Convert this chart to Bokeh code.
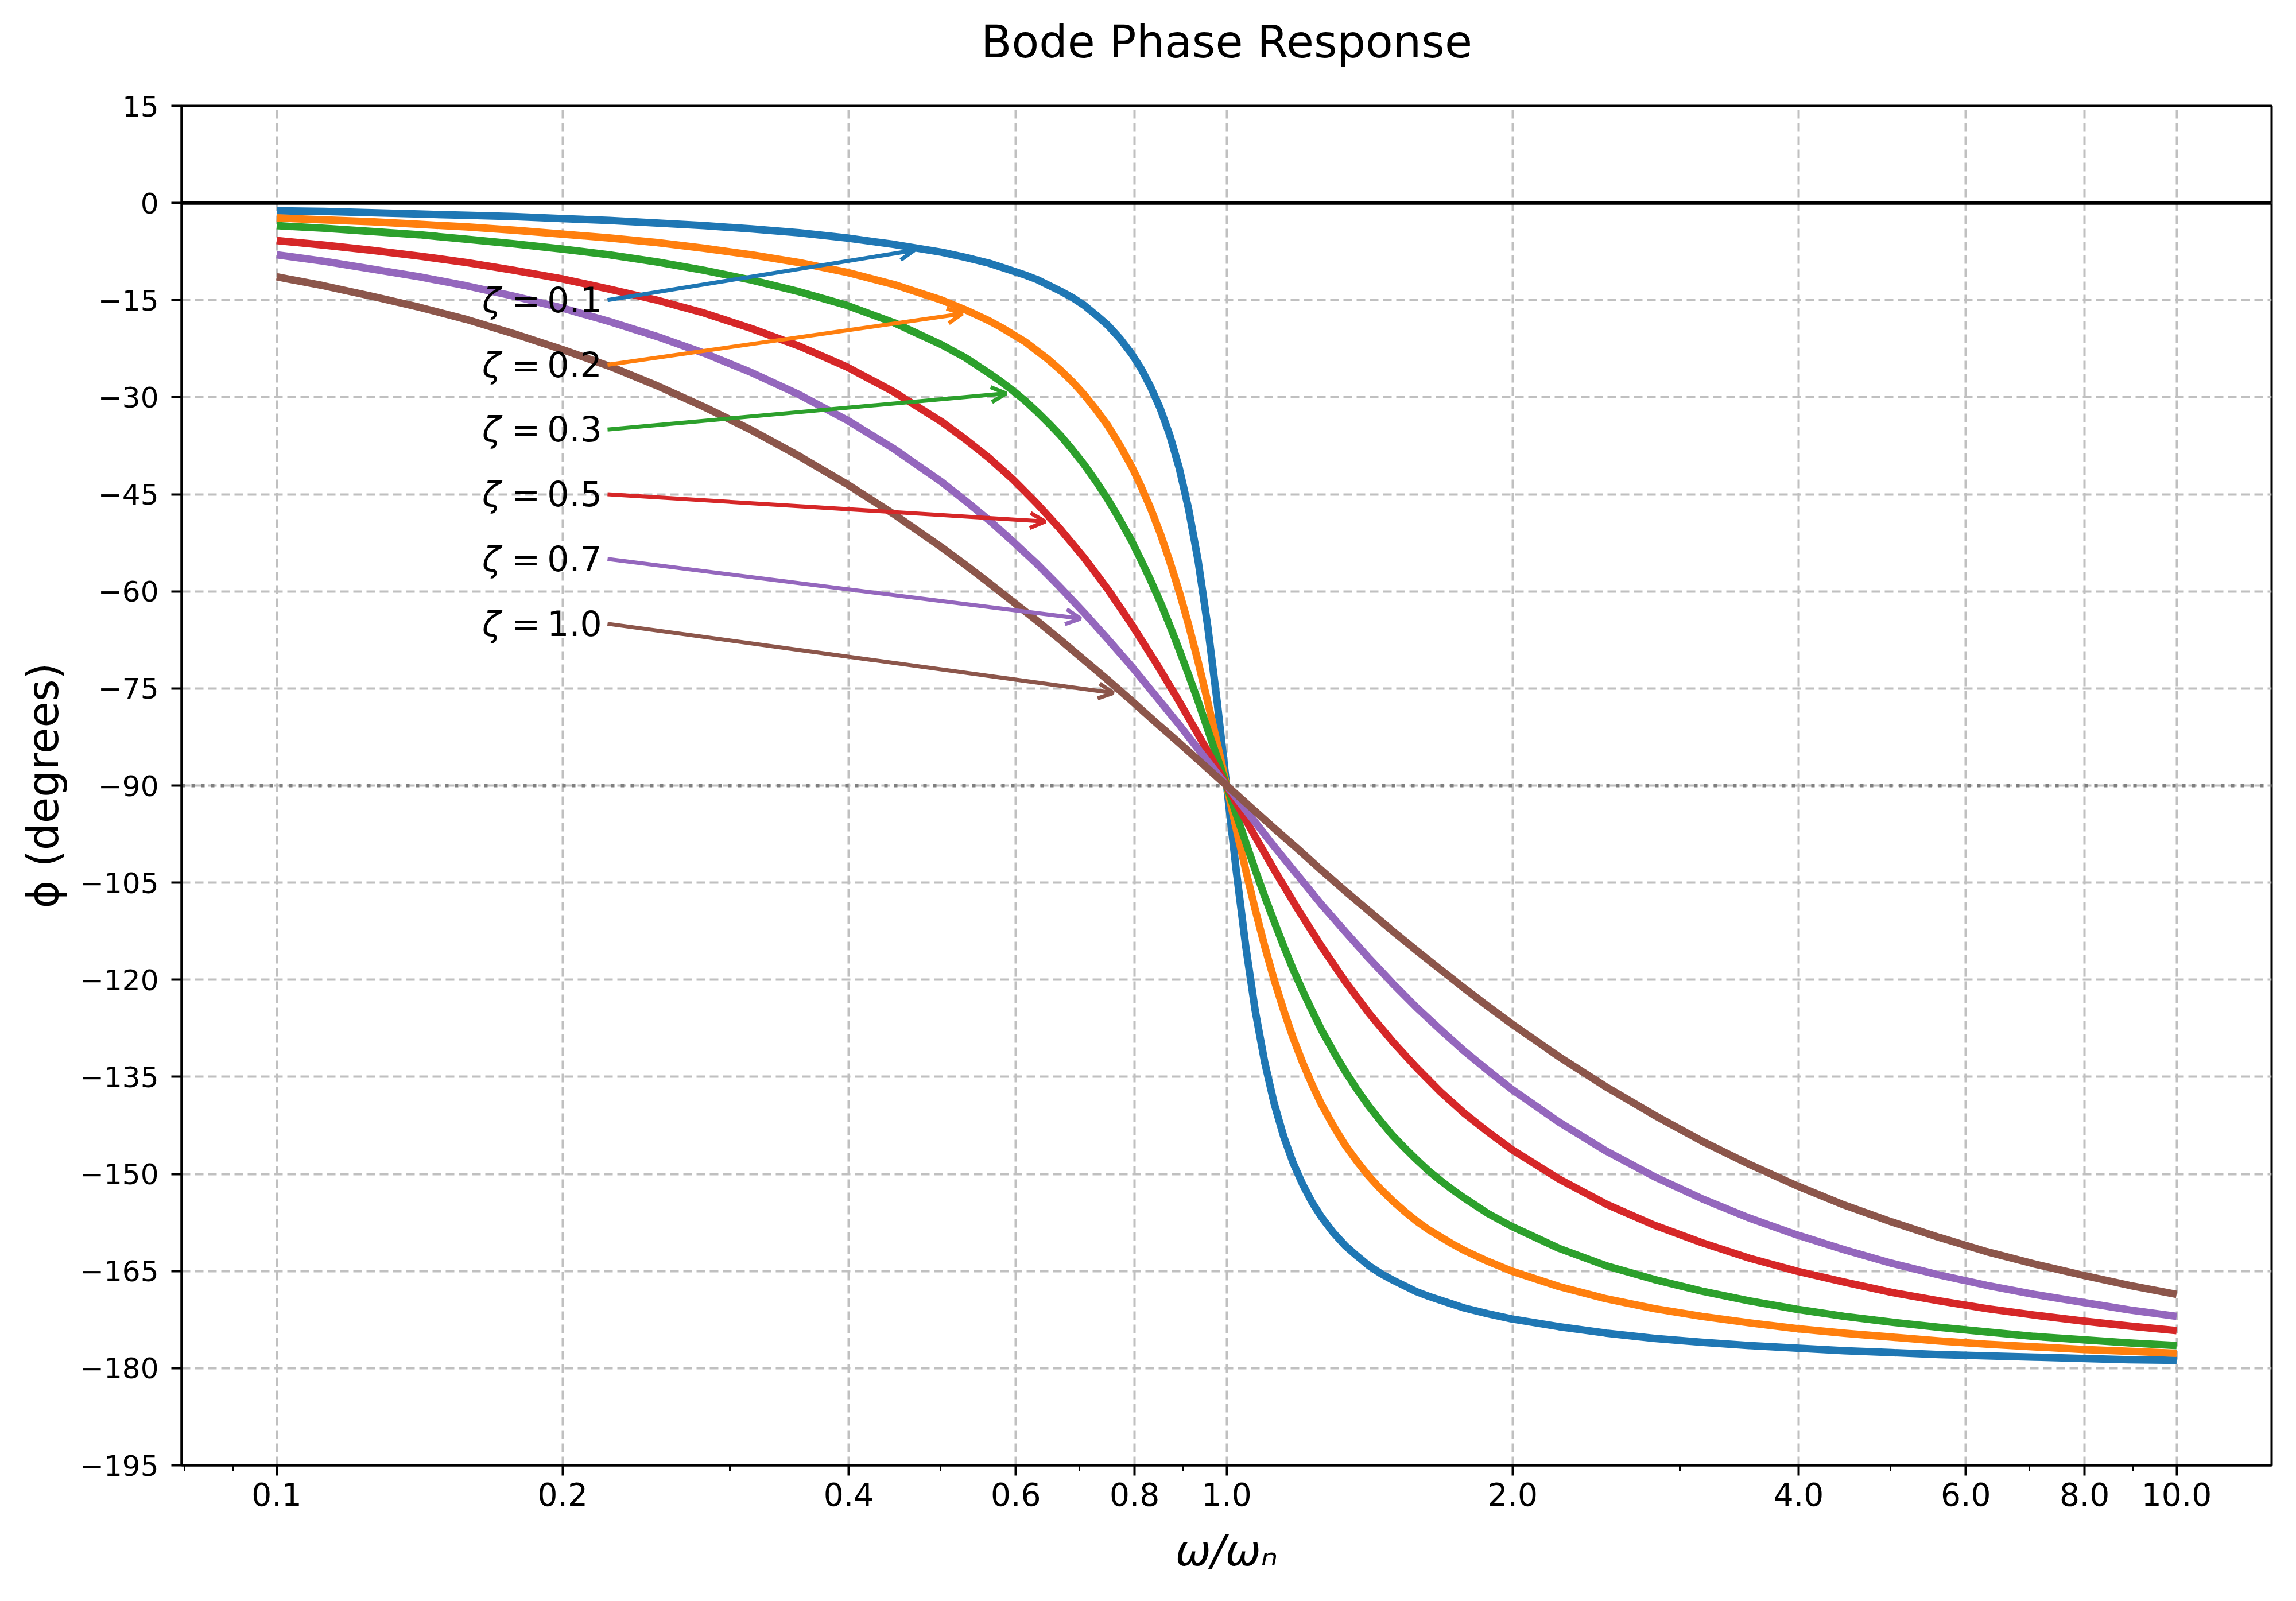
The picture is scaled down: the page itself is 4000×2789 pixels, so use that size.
from bokeh.plotting import figure
from bokeh.models import (FixedTicker, Range1d, Span, Arrow, OpenHead, LogAxis,
                          ColumnDataSource, PrintfTickFormatter)
from bokeh.core.properties import value
from bokeh.embed import file_html
from bokeh.resources import INLINE

# ---------------- data ----------------
zeta_names = ["0.1", "0.2", "0.3", "0.5", "0.7", "1.0"]
colors = ["#1f77b4", "#ff7f0e", "#2ca02c", "#d62728", "#9467bd", "#8c564b"]

# frequency ratio samples (omega / omega_n)
freq_fine = [0.1, 0.1122, 0.1259, 0.1413, 0.1585, 0.1778, 0.1995, 0.2239, 0.2512, 0.2818,
             0.3162, 0.3548, 0.3981, 0.4467, 0.5012, 0.5309, 0.5623, 0.5788, 0.5957, 0.6131,
             0.6310, 0.6494, 0.6683, 0.6879, 0.7079, 0.7286, 0.7499, 0.7718, 0.7943, 0.8128,
             0.8318, 0.8511, 0.8710, 0.8913, 0.9120, 0.9333, 0.9550, 0.9772, 1.0,
             1.0233, 1.0471, 1.0715, 1.0965, 1.1220, 1.1482, 1.1749, 1.2023, 1.2303, 1.2589,
             1.2957, 1.3335, 1.3725, 1.4125, 1.4538, 1.4962, 1.5399, 1.5849, 1.6312, 1.6788,
             1.7278, 1.7783, 1.8836, 1.9953, 2.2387, 2.5119, 2.8184, 3.1623, 3.5481, 3.9811,
             4.4668, 5.0119, 5.6234, 6.3096, 7.0795, 7.9433, 8.9125, 10.0]
freq_medium = [0.1, 0.1122, 0.1259, 0.1413, 0.1585, 0.1778, 0.1995, 0.2239, 0.2512, 0.2818,
               0.3162, 0.3548, 0.3981, 0.4467, 0.5012, 0.5309, 0.5623, 0.5957, 0.6310, 0.6683,
               0.7079, 0.7499, 0.7943, 0.8414, 0.8913, 0.9441, 1.0,
               1.0593, 1.1220, 1.1885, 1.2589,
               1.3335, 1.4125, 1.4962, 1.5849, 1.6788, 1.7783, 1.8836, 1.9953, 2.2387, 2.5119,
               2.8184, 3.1623, 3.5481, 3.9811, 4.4668, 5.0119, 5.6234, 6.3096, 7.0795, 7.9433,
               8.9125, 10.0]

# phase in degrees
phase_z01 = [-1.2, -1.3, -1.5, -1.7, -1.9, -2.1, -2.4, -2.7, -3.1, -3.5,
             -4.0, -4.6, -5.4, -6.4, -7.6, -8.4, -9.3, -9.9, -10.5, -11.1,
             -11.8, -12.7, -13.6, -14.6, -15.8, -17.3, -18.9, -20.9, -23.3, -25.6,
             -28.4, -31.7, -35.8, -40.9, -47.3, -55.3, -65.3, -77.0, -90.0,
             -103.0, -114.7, -124.7, -132.7, -139.1, -144.2, -148.3, -151.6, -154.4, -156.7,
             -159.1, -161.1, -162.7, -164.2, -165.4, -166.4, -167.3, -168.2, -168.9, -169.5,
             -170.1, -170.7, -171.6, -172.4, -173.6, -174.6, -175.4, -176.0, -176.5, -176.9,
             -177.3, -177.6, -177.9, -178.1, -178.3, -178.5, -178.7, -178.8]
phase_z02 = [-2.3, -2.6, -2.9, -3.3, -3.7, -4.2, -4.8, -5.4, -6.1, -7.0,
             -8.0, -9.2, -10.7, -12.6, -15.0, -16.5, -18.2, -19.2, -20.3, -21.4,
             -22.8, -24.2, -25.8, -27.6, -29.6, -31.9, -34.4, -37.4, -40.7, -43.8,
             -47.2, -51.0, -55.3, -60.0, -65.2, -70.9, -77.0, -83.4, -90.0,
             -96.6, -103.0, -109.1, -114.8, -120.0, -124.7, -129.0, -132.8, -136.2, -139.3,
             -142.6, -145.6, -148.1, -150.4, -152.4, -154.2, -155.8, -157.3, -158.6, -159.7,
             -160.8, -161.8, -163.5, -165.0, -167.4, -169.3, -170.8, -172.0, -173.0, -173.9,
             -174.6, -175.2, -175.8, -176.3, -176.7, -177.1, -177.4, -177.7]
phase_z03 = [-3.5, -3.9, -4.4, -4.9, -5.6, -6.3, -7.1, -8.0, -9.1, -10.4,
             -11.9, -13.7, -15.8, -18.5, -21.9, -23.9, -26.3, -27.6, -29.0, -30.5,
             -32.2, -34.0, -35.9, -38.1, -40.4, -43.0, -45.8, -48.9, -52.2, -55.2,
             -58.3, -61.6, -65.2, -69.0, -72.9, -77.0, -81.3, -85.6, -90.0,
             -94.4, -98.7, -103.0, -107.1, -111.0, -114.8, -118.4, -121.7, -124.8, -127.8,
             -131.1, -134.2, -137.0, -139.6, -141.9, -144.1, -146.0, -147.8, -149.5, -151.0,
             -152.4, -153.7, -156.1, -158.1, -161.5, -164.2, -166.3, -168.1, -169.6, -170.9,
             -172.0, -172.9, -173.7, -174.4, -175.1, -175.6, -176.1, -176.5]
phase_z05 = [-5.8, -6.5, -7.3, -8.2, -9.2, -10.4, -11.7, -13.3, -15.0, -17.0,
             -19.4, -22.1, -25.3, -29.2, -33.8, -36.5, -39.4, -42.7, -46.4, -50.4,
             -54.8, -59.7, -65.1, -70.9, -77.0, -83.4, -90.0,
             -96.6, -103.0, -109.1, -114.9,
             -120.3, -125.2, -129.6, -133.6, -137.3, -140.6, -143.5, -146.2, -150.8, -154.7,
             -157.9, -160.6, -163.0, -165.0, -166.7, -168.3, -169.6, -170.8, -171.8, -172.7,
             -173.5, -174.2]
phase_z07 = [-8.0, -9.0, -10.2, -11.4, -12.8, -14.4, -16.2, -18.3, -20.6, -23.2,
             -26.2, -29.6, -33.5, -38.0, -43.1, -46.0, -49.0, -52.3, -55.7, -59.4,
             -63.3, -67.4, -71.6, -76.1, -80.6, -85.3, -90.0,
             -94.7, -99.4, -103.9, -108.4,
             -112.6, -116.7, -120.6, -124.3, -127.7, -131.0, -134.0, -136.9, -142.0, -146.5,
             -150.4, -153.8, -156.8, -159.4, -161.7, -163.8, -165.6, -167.2, -168.6, -169.8,
             -171.0, -172.0]
phase_z10 = [-11.4, -12.8, -14.4, -16.1, -18.0, -20.2, -22.6, -25.2, -28.2, -31.5,
             -35.1, -39.1, -43.4, -48.1, -53.2, -55.9, -58.7, -61.6, -64.5, -67.5,
             -70.6, -73.7, -76.9, -80.2, -83.4, -86.7, -90.0,
             -93.3, -96.6, -99.8, -103.1,
             -106.3, -109.4, -112.5, -115.5, -118.4, -121.3, -124.1, -126.8, -131.9, -136.6,
             -140.9, -144.9, -148.5, -151.8, -154.8, -157.4, -159.8, -162.0, -163.9, -165.6,
             -167.2, -168.6]

series_freq = [freq_fine, freq_fine, freq_fine, freq_medium, freq_medium, freq_medium]
series_phase = [phase_z01, phase_z02, phase_z03, phase_z05, phase_z07, phase_z10]

# ticks
x_major_ticks = [0.1, 0.2, 0.4, 0.6, 0.8, 1.0, 2.0, 4.0, 6.0, 8.0, 10.0]
x_minor_ticks = [0.08, 0.09, 0.3, 0.5, 0.7, 0.9, 3.0, 5.0, 7.0, 9.0]
y_ticks = [15, 0, -15, -30, -45, -60, -75, -90, -105, -120, -135, -150, -165, -180, -195]
y_tick_text = ["15", "0", "\u221215", "\u221230", "\u221245", "\u221260", "\u221275", "\u221290",
               "\u2212105", "\u2212120", "\u2212135", "\u2212150", "\u2212165", "\u2212180", "\u2212195"]

# annotation anchors
label_y = [-15, -25, -35, -45, -55, -65]
label_x = 0.22
tail_x = 0.223
tip_x = [0.469, 0.527, 0.586, 0.644, 0.702, 0.760]
tip_y = [-7.3, -17.1, -29.4, -49.2, -64.2, -75.7]

TITLE = "Bode Phase Response"
FONT = "DejaVu Sans"

# ---------------- figure ----------------
p = figure(width=3984, height=2773, x_axis_type="log", title=None,
           x_range=Range1d(10 ** -1.1, 10 ** 1.1), y_range=Range1d(-195, 15),
           output_backend="svg", toolbar_location=None,
           min_border_left=316, min_border_right=27,
           min_border_top=184, min_border_bottom=221,
           background_fill_color="white", border_fill_color="white")

p.outline_line_color = "black"
p.outline_line_width = 4

# axes
p.xaxis.ticker = FixedTicker(ticks=x_major_ticks, minor_ticks=x_minor_ticks)
p.xaxis.formatter = PrintfTickFormatter(format="%.1f")
p.yaxis.ticker = FixedTicker(ticks=y_ticks)
p.yaxis.major_label_overrides = {t: s for t, s in zip(y_ticks, y_tick_text)}

for ax in (p.xaxis[0], p.yaxis[0]):
    ax.axis_line_width = 4
    ax.axis_line_color = "black"
    ax.major_tick_line_width = 4
    ax.major_tick_line_color = "black"
    ax.major_tick_out = 18
    ax.major_tick_in = 0
    ax.minor_tick_line_width = 3
    ax.minor_tick_line_color = "black"
    ax.minor_tick_out = 10
    ax.minor_tick_in = 0
    ax.major_label_text_font = FONT
    ax.major_label_text_color = "black"
    ax.axis_label_text_font = FONT
    ax.axis_label_text_font_size = "74px"
    ax.axis_label_text_color = "black"

p.yaxis.minor_tick_line_color = None
p.xaxis[0].major_label_text_font_size = "55px"
p.yaxis[0].major_label_text_font_size = "50px"
p.xaxis[0].major_label_standoff = 12
p.yaxis[0].major_label_standoff = 22

p.xaxis[0].axis_label = "\u03c9/\u03c9\u2099"
p.xaxis[0].axis_label_text_font_style = "italic"
p.xaxis[0].axis_label_standoff = 32
p.yaxis[0].axis_label = "\u03d5 (degrees)"
p.yaxis[0].axis_label_text_font_style = "normal"
p.yaxis[0].axis_label_standoff = 18

# title drawn as the label of a bare axis above the frame
title_axis = LogAxis(ticker=FixedTicker(ticks=[]), axis_label=TITLE,
                     axis_label_text_font=FONT, axis_label_text_font_size="78px",
                     axis_label_text_font_style="normal", axis_label_text_color="black",
                     axis_label_standoff=67, axis_line_color=None,
                     major_tick_line_color=None, minor_tick_line_color=None,
                     major_tick_out=0, minor_tick_out=0, major_label_standoff=0)
p.add_layout(title_axis, "above")

# grid
for g in (p.xgrid[0], p.ygrid[0]):
    g.grid_line_color = "#c0c0c0"
    g.grid_line_width = 4
    g.grid_line_dash = "15 8"

# reference lines
p.add_layout(Span(location=-90, dimension="width", line_color="#7f7f7f",
                  line_width=6, line_dash="6 11", level="underlay"))
p.add_layout(Span(location=0, dimension="width", line_color="black",
                  line_width=6, level="underlay"))

# curves
for fr, ph, c in zip(series_freq, series_phase, colors):
    src = ColumnDataSource(dict(x=fr, y=ph))
    p.line("x", "y", source=src, line_color=c, line_width=13,
           line_join="round", line_cap="butt")

# annotations: arrows and labels
for i, c in enumerate(colors):
    p.add_layout(Arrow(end=OpenHead(size=26, line_width=7, line_color=c),
                       x_start=tail_x, y_start=label_y[i],
                       x_end=tip_x[i], y_end=tip_y[i],
                       line_color=c, line_width=7))

eq_src = ColumnDataSource(dict(x=[label_x] * len(zeta_names), y=label_y,
                               t=["=\u2009" + z for z in zeta_names]))
p.text("x", "y", text="t", source=eq_src, text_font=value(FONT),
       text_font_size=value("60px"), text_align="right",
       text_baseline="middle", text_color="black")
zeta_src = ColumnDataSource(dict(x=[label_x] * len(zeta_names), y=label_y,
                                 t=["\u03b6"] * len(zeta_names)))
p.text("x", "y", text="t", source=zeta_src, text_font=value(FONT),
       text_font_size=value("60px"), text_font_style="italic",
       text_align="right", text_baseline="middle", text_color="black",
       x_offset=-176)

open("out.html", "w").write(file_html(p, INLINE))
